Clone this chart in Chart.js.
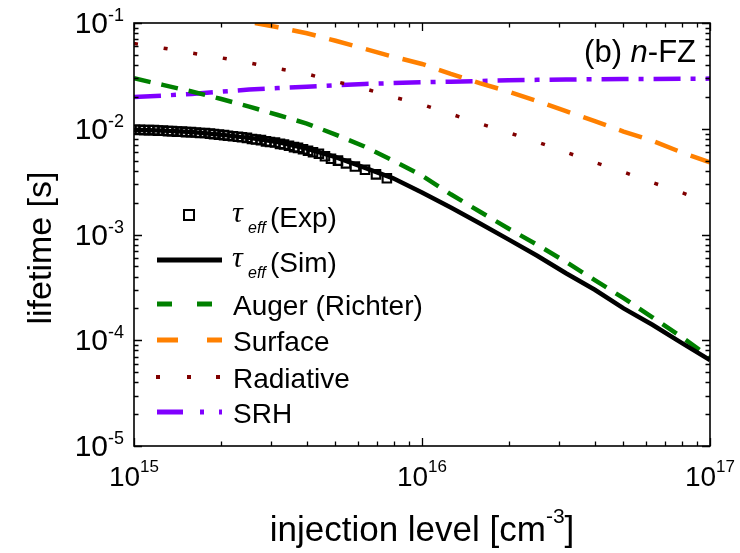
<!DOCTYPE html>
<html><head><meta charset="utf-8">
<script src="https://cdn.jsdelivr.net/npm/chart.js@4/dist/chart.umd.min.js"></script>
<style>html,body{margin:0;padding:0;background:#fff}#wrap{width:740px;height:553px}</style>
</head><body><div id="wrap"><canvas id="c" width="740" height="553"></canvas></div>
<script>
// ---------- data ----------
const injExp = [1.008e15,1.049e15,1.083e15,1.127e15,1.173e15,1.211e15,1.261e15,1.312e15,1.355e15,1.410e15,
  1.468e15,1.516e15,1.577e15,1.641e15,1.695e15,1.764e15,1.836e15,1.896e15,1.973e15,2.054e15,
  2.120e15,2.206e15,2.296e15,2.371e15,2.467e15,2.568e15,2.652e15,2.760e15,2.873e15,2.966e15,
  3.087e15,3.213e15,3.318e15,3.453e15,3.594e15,3.711e15,3.862e15,4.020e15,4.183e15,4.386e15,
  4.603e15,4.831e15,5.108e15,5.445e15,5.848e15,6.340e15,6.922e15,7.551e15];
const tauExp = [0.0098,0.0098,0.0097,0.0097,0.0097,0.0096,0.0096,0.0095,0.0095,0.0094,
  0.0094,0.0093,0.0093,0.0092,0.0091,0.0091,0.0090,0.0089,0.0088,0.0087,
  0.0086,0.0085,0.0084,0.0083,0.0082,0.0080,0.0079,0.0078,0.0076,0.0075,
  0.0074,0.0072,0.0071,0.0069,0.0067,0.0066,0.0064,0.0062,0.0060,0.0058,
  0.0055,0.0052,0.0050,0.0047,0.0044,0.0041,0.0037,0.0034];

const injModel = [1.000e15,1.259e15,1.585e15,1.995e15,2.512e15,3.162e15,3.981e15,5.012e15,6.310e15,7.943e15,
  1.000e16,1.259e16,1.585e16,1.995e16,2.512e16,3.162e16,3.981e16,5.012e16,6.310e16,7.943e16,1.000e17];
const tauSim = [0.0098,0.0096,0.0093,0.0088,0.0082,0.0075,0.0065,0.0054,0.0043,0.0034,
  0.0025,0.0018,0.00128,0.00090,0.00063,0.00043,0.00030,0.00020,0.000140,0.000095,0.000065];
const tauAuger = [0.030,0.026,0.0225,0.0192,0.0162,0.0135,0.0112,0.0088,0.0068,0.0050,
  0.0036,0.0024,0.00165,0.00114,0.00080,0.00055,0.00037,0.00025,0.000165,0.000108,0.000069];
const tauRad = [0.064,0.058,0.052,0.047,0.042,0.037,0.033,0.028,0.024,0.020,
  0.017,0.0138,0.0112,0.0092,0.0075,0.0060,0.0048,0.0039,0.0031,0.0025,0.0020];
const tauSrh = [0.0200,0.0206,0.0213,0.0224,0.0235,0.0243,0.0250,0.0258,0.0265,0.0270,
  0.0275,0.0279,0.0283,0.0287,0.0290,0.0292,0.0294,0.0295,0.0296,0.0297,0.0298];
const injSurface = [2.630e15,3.162e15,3.981e15,5.012e15,6.310e15,7.943e15,
  1.000e16,1.259e16,1.585e16,1.995e16,2.512e16,3.162e16,3.981e16,5.012e16,6.310e16,7.943e16,1.000e17];
const tauSurface = [0.100,0.091,0.080,0.068,0.057,0.048,
  0.041,0.033,0.027,0.0225,0.0183,0.0147,0.0118,0.0094,0.0077,0.0060,0.0048];

const xTickValues = [1e15, 1e16, 1e17];
const xTickExponents = ['15', '16', '17'];
const yTickValues = [1e-1, 1e-2, 1e-3, 1e-4, 1e-5];
const yTickExponents = ['-1', '-2', '-3', '-4', '-5'];
const seriesNames = ['Exp', 'Sim', 'Auger (Richter)', 'Surface', 'Radiative', 'SRH'];
const xTitle = 'injection level [cm';
const xTitleSup = '-3';
const yTitle = 'lifetime [s]';
const panelLabel = ['(b) ', 'n', '-FZ'];

// ---------- chart ----------
const mk = (xs, ys) => xs.map((x, i) => ({x: x, y: ys[i]}));
const COLORS = {sim:'#000000', auger:'#008000', surface:'#FF8000', rad:'#800000', srh:'#8000FF'};
const SANS = '"Liberation Sans", Arial, sans-serif';

const overlay = {
  id: 'overlay',
  afterDraw(chart) {
    const ctx = chart.ctx;
    const xs = chart.scales.x, ys = chart.scales.y;
    const L = chart.chartArea.left, R = chart.chartArea.right, T = chart.chartArea.top, B = chart.chartArea.bottom;
    ctx.save();
    ctx.strokeStyle = '#000'; ctx.fillStyle = '#000';
    ctx.lineWidth = 1.6;
    ctx.strokeRect(L, T, R - L, B - T);
    // ticks (inward, all four sides)
    ctx.lineWidth = 1.3;
    const major = 8, minor = 4.5;
    ctx.beginPath();
    for (let d = 15; d <= 17; d++) {
      for (let m = 1; m <= 9; m++) {
        const v = m * Math.pow(10, d);
        if (v > 1e17 * 1.0001) break;
        const px = Math.round(xs.getPixelForValue(v)) + 0.5;
        const len = m === 1 ? major : minor;
        ctx.moveTo(px, B); ctx.lineTo(px, B - len);
        ctx.moveTo(px, T); ctx.lineTo(px, T + len);
      }
    }
    for (let d = -5; d <= -1; d++) {
      for (let m = 1; m <= 9; m++) {
        const v = m * Math.pow(10, d);
        if (v > 0.1 * 1.0001) break;
        const py = Math.round(ys.getPixelForValue(v)) + 0.5;
        const len = m === 1 ? major : minor;
        ctx.moveTo(L, py); ctx.lineTo(L + len, py);
        ctx.moveTo(R, py); ctx.lineTo(R - len, py);
      }
    }
    ctx.stroke();

    ctx.textBaseline = 'alphabetic'; ctx.textAlign = 'left';
    // x tick labels
    const xbF = '28px ' + SANS, xsF = '17px ' + SANS;
    xTickValues.forEach((v, i) => {
      const px = xs.getPixelForValue(v);
      ctx.font = xbF; const wb = ctx.measureText('10').width;
      ctx.font = xsF; const wsup = ctx.measureText(xTickExponents[i]).width;
      const x0 = px - (wb + wsup) / 2;
      ctx.font = xbF; ctx.fillText('10', x0, B + 40);
      ctx.font = xsF; ctx.fillText(xTickExponents[i], x0 + wb, B + 26);
    });
    // y tick labels
    const ybF = '30px ' + SANS, ysF = '18px ' + SANS;
    yTickValues.forEach((v, i) => {
      const py = ys.getPixelForValue(v);
      ctx.font = ybF; const wb = ctx.measureText('10').width;
      ctx.font = ysF; const wsup = ctx.measureText(yTickExponents[i]).width;
      const x0 = L - 10 - wb - wsup;
      ctx.font = ybF; ctx.fillText('10', x0, py + 10);
      ctx.font = ysF; ctx.fillText(yTickExponents[i], x0 + wb, py - 2);
    });
    // x title
    const tF = '35px ' + SANS, tSF = '21px ' + SANS;
    ctx.font = tF; const w1 = ctx.measureText(xTitle).width; const w3 = ctx.measureText(']').width;
    ctx.font = tSF; const w2 = ctx.measureText(xTitleSup).width;
    let tx = (L + R) / 2 - (w1 + w2 + w3) / 2;
    ctx.font = tF; ctx.fillText(xTitle, tx, 541);
    ctx.font = tSF; ctx.fillText(xTitleSup, tx + w1, 523);
    ctx.font = tF; ctx.fillText(']', tx + w1 + w2, 541);
    // y title
    ctx.save();
    ctx.translate(51, 248); ctx.rotate(-Math.PI / 2);
    ctx.textAlign = 'center'; ctx.font = '34px ' + SANS;
    ctx.fillText(yTitle, 0, 0);
    ctx.restore();

    // panel label
    const pF = '31px ' + SANS, pIF = 'italic 31px ' + SANS;
    ctx.font = pF; const p1 = ctx.measureText(panelLabel[0]).width, p3 = ctx.measureText(panelLabel[2]).width;
    ctx.font = pIF; const p2 = ctx.measureText(panelLabel[1]).width;
    let px0 = 696 - (p1 + p2 + p3);
    ctx.font = pF; ctx.fillText(panelLabel[0], px0, 62);
    ctx.font = pIF; ctx.fillText(panelLabel[1], px0 + p1, 62);
    ctx.font = pF; ctx.fillText(panelLabel[2], px0 + p1 + p2, 62);

    // legend
    const ds = chart.data.datasets;
    const rowsY = [215, 260, 304, 340, 377, 412];
    const segs = [null, [[157,222]], [[157,172],[197,212]], [[157,178],[207,222]],
      [[156,160],[187,191],[216,220]], [[157,183],[200,204],[219,222]]];
    rowsY.forEach((y, i) => {
      if (i === 0) {
        ctx.lineWidth = 2; ctx.strokeStyle = '#000';
        ctx.strokeRect(184, y - 5, 10, 10);
      } else {
        ctx.strokeStyle = ds[i].borderColor; ctx.lineWidth = ds[i].borderWidth + 0.5;
        ctx.setLineDash([]);
        ctx.beginPath();
        segs[i].forEach(s => { ctx.moveTo(s[0], y); ctx.lineTo(s[1], y); });
        ctx.stroke();
      }
      ctx.fillStyle = '#000';
      const lF = '28px ' + SANS;
      if (i < 2) {
        ctx.font = 'italic 30px "Liberation Serif", "Times New Roman", serif';
        ctx.fillText('\u03C4', 232, y + 7);
        ctx.font = 'italic 16px ' + SANS;
        ctx.fillText('eff', 248, y + 18);
        ctx.font = lF;
        ctx.fillText('(' + seriesNames[i] + ')', 270, y + 12);
      } else {
        ctx.font = lF;
        ctx.fillText(seriesNames[i], 233, y + 11);
      }
    });
    ctx.restore();
  }
};

new Chart(document.getElementById('c'), {
  type: 'line',
  data: { datasets: [
    {label: seriesNames[0], data: mk(injExp, tauExp), showLine: false, pointStyle: 'rect', pointRadius: 6,
      pointBorderWidth: 2.1, pointBorderColor: '#000', pointBackgroundColor: 'rgba(0,0,0,0)', borderColor: '#000', backgroundColor: 'rgba(0,0,0,0)'},
    {label: seriesNames[1], data: mk(injModel, tauSim), borderColor: COLORS.sim, borderWidth: 4.5, pointRadius: 0},
    {label: seriesNames[2], data: mk(injModel, tauAuger), borderColor: COLORS.auger, borderWidth: 4.5, borderDash: [17, 11], pointRadius: 0},
    {label: seriesNames[3], data: mk(injSurface, tauSurface), borderColor: COLORS.surface, borderWidth: 4.5, borderDash: [24, 14], pointRadius: 0},
    {label: seriesNames[4], data: mk(injModel, tauRad), borderColor: COLORS.rad, borderWidth: 3.5, borderDash: [4, 26], pointRadius: 0},
    {label: seriesNames[5], data: mk(injModel, tauSrh), borderColor: COLORS.srh, borderWidth: 4.5, borderDash: [27, 10, 5, 10], pointRadius: 0}
  ]},
  options: {
    responsive: false, animation: false, devicePixelRatio: 1,
    layout: {padding: {top: 23, right: 30, left: 0, bottom: 0}},
    plugins: {legend: {display: false}, tooltip: {enabled: false}},
    elements: {line: {tension: 0, borderCapStyle: 'butt', fill: false}},
    scales: {
      x: {type: 'logarithmic', min: 1e15, max: 1e17, grid: {display: false}, border: {display: false},
        ticks: {display: false}, afterFit(s) { s.height = 107; }},
      y: {type: 'logarithmic', min: 1e-5, max: 1e-1, grid: {display: false}, border: {display: false},
        ticks: {display: false}, afterFit(s) { s.width = 134; }}
    }
  },
  plugins: [overlay]
});
</script>
</body></html>
